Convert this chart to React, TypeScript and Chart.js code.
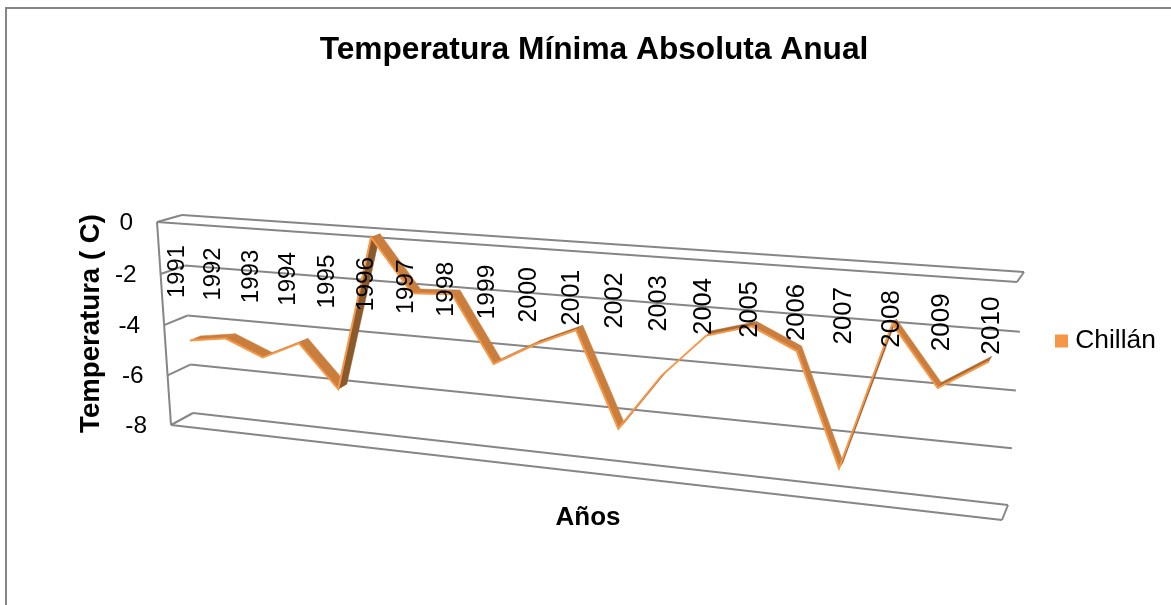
import React, { useEffect, useRef } from "react";
import { Chart, registerables } from "chart.js";

Chart.register(...registerables);

const years = ["1991","1992","1993","1994","1995","1996","1997","1998","1999","2000","2001","2002","2003","2004","2005","2006","2007","2008","2009","2010"];
const chillan = [-4.66,-4.44,-5.05,-4.36,-6.0,-0.12,-2.08,-2.0,-4.45,-3.6,-2.93,-6.4,-4.3,-2.73,-2.27,-3.0,-6.98,-1.8,-3.84,-2.8];

const FONT = "'Liberation Sans', Arial, sans-serif";
const WALL = "#868686";
const ORANGE = "#F79646";
const FALLING = "#C97E3D";
const RISING_MILD = "#A86B32";
const RISING = "#8A5A2C";

// Perspective of the 3D box: [top-left, top-right, bottom-right, bottom-left]
type P = [number, number];
const frontPlane: P[] = [[157,222],[1017,282],[1002,520],[171,425]];
const backPlane: P[] = [[182,215],[1024,272],[1008,505],[193,413]];

function project(u: number, v: number, depth: number): P {
  const q = frontPlane.map((p, i) => [p[0] + (backPlane[i][0]-p[0])*depth, p[1] + (backPlane[i][1]-p[1])*depth]);
  const [[x0,y0],[x1,y1],[x2,y2],[x3,y3]] = q;
  const dx1=x1-x2, dx2=x3-x2, dx3=x0-x1+x2-x3;
  const dy1=y1-y2, dy2=y3-y2, dy3=y0-y1+y2-y3;
  const den=dx1*dy2-dx2*dy1;
  const g=(dx3*dy2-dx2*dy3)/den, h=(dx1*dy3-dx3*dy1)/den;
  const a=x1-x0+g*x1, b=x3-x0+h*x3, d=y1-y0+g*y1, e=y3-y0+h*y3;
  const w=g*u+h*v+1;
  return [(a*u+b*v+x0)/w, (d*u+e*v+y0)/w];
}

const RIBBON_FRONT = 0.3;
const RIBBON_BACK = 0.75;

function normU(chart: any, i: number) {
  const s = chart.scales.x;
  return (s.getPixelForValue(i) - s.left) / (s.right - s.left);
}
function normV(chart: any, value: number) {
  const s = chart.scales.y;
  return (s.getPixelForValue(value) - s.top) / (s.bottom - s.top);
}

const box3d = {
  id: "box3d",
  afterDatasetsUpdate(chart: any) {
    const meta = chart.getDatasetMeta(0);
    const data = chart.data.datasets[0].data as number[];
    meta.data.forEach((pt: any, i: number) => {
      const [x, y] = project(normU(chart, i), normV(chart, data[i]), RIBBON_FRONT);
      pt.x = x; pt.y = y;
    });
  },
  beforeDraw(chart: any) {
    const { ctx } = chart;
    ctx.save();
    ctx.strokeStyle = WALL;
    ctx.lineWidth = 2;
    ctx.strokeRect(6, 8, 1300, 800);
    ctx.restore();

    // axis labels follow the slanted edges of the box
    const xs = chart.scales.x;
    xs.getLabelItems().forEach((it: any, i: number) => {
      const u = normU(chart, i);
      const [x, y] = project(u, 0, 0);
      it.options.translation = [x + 2 - 2 * u, y + 22 - 6 * u];
      it.options.textAlign = "right";
      it.options.textBaseline = "middle";
      it.textOffset = 0;
    });
    const ys = chart.scales.y;
    ys.getLabelItems().forEach((it: any, i: number) => {
      const v = normV(chart, ys.ticks[i].value);
      const [x, y] = project(0, v, 0);
      it.options.translation = [x - 24, y + 1];
    });

    const lg = chart.legend;
    const shift = 341 - (lg.top + lg.bottom) / 2;
    lg.top += shift; lg.bottom += shift;
    const shiftX = 1061 - lg.options.labels.padding - lg.left;
    lg.left += shiftX; lg.right += shiftX;
  },
  beforeDatasetsDraw(chart: any) {
    const { ctx } = chart;
    const ys = chart.scales.y;
    const line = (a: P, b: P) => { ctx.beginPath(); ctx.moveTo(a[0], a[1]); ctx.lineTo(b[0], b[1]); ctx.stroke(); };
    ctx.save();
    ctx.strokeStyle = WALL;
    ctx.lineWidth = 2;
    ys.ticks.forEach((t: any) => {
      const v = normV(chart, t.value);
      line(project(0, v, 1), project(1, v, 1));
      line(project(0, v, 0), project(0, v, 1));
    });
    line(project(0, 0, 0), project(0, 1, 0));
    line(project(0, 0, 0), project(1, 0, 0));
    line(project(1, 0, 0), project(1, 0, 1));
    line(project(0, 1, 0), project(1, 1, 0));
    line(project(1, 1, 0), project(1, 1, 1));
    ctx.restore();

    // side faces of the 3D ribbon, between its front and back edges
    const data = chart.data.datasets[0].data as number[];
    ctx.save();
    for (let i = 0; i < data.length - 1; i++) {
      const u0 = normU(chart, i), u1 = normU(chart, i + 1);
      const v0 = normV(chart, data[i]), v1 = normV(chart, data[i + 1]);
      const a = project(u0, v0, RIBBON_FRONT), b = project(u1, v1, RIBBON_FRONT);
      const c = project(u1, v1, RIBBON_BACK), d = project(u0, v0, RIBBON_BACK);
      const rise = data[i + 1] - data[i];
      const col = rise > 1.5 ? RISING : rise > 0.3 ? RISING_MILD : FALLING;
      ctx.fillStyle = col; ctx.strokeStyle = col; ctx.lineWidth = 0.5;
      ctx.beginPath();
      ctx.moveTo(a[0], a[1]); ctx.lineTo(b[0], b[1]); ctx.lineTo(c[0], c[1]); ctx.lineTo(d[0], d[1]);
      ctx.closePath(); ctx.fill(); ctx.stroke();
    }
    ctx.restore();
  },
};

export default function App() {
  const ref = useRef<HTMLCanvasElement>(null);
  useEffect(() => {
    const chart = new Chart(ref.current as HTMLCanvasElement, {
      type: "line",
      data: {
        labels: years,
        datasets: [{
          label: "Chillán",
          data: chillan,
          borderColor: ORANGE,
          backgroundColor: ORANGE,
          borderWidth: 2,
          pointRadius: 0,
          tension: 0,
          clip: false,
        }],
      },
      options: {
        responsive: false,
        animation: false,
        layout: { padding: { left: 22, right: 5, top: 0, bottom: 72 } },
        plugins: {
          tooltip: { enabled: false },
          title: {
            display: true,
            text: "Temperatura Mínima Absoluta Anual",
            color: "#000",
            font: { family: FONT, size: 31.7, weight: "bold", lineHeight: 1.2 },
            padding: { top: 31, bottom: 155 },
          },
          legend: {
            position: "right",
            labels: {
              color: "#000",
              font: { family: FONT, size: 26.4 },
              usePointStyle: true,
              pointStyle: "rect",
              boxWidth: 1,
              boxHeight: 11,
              padding: 36,
            },
          },
        },
        scales: {
          x: {
            type: "category",
            offset: true,
            grid: { display: false },
            border: { display: false },
            afterFit: (s: any) => { s.height = 110; },
            ticks: {
              color: "#000",
              // the labels grow slightly towards the viewer, as the perspective does
              font: (c: any) => ({ family: FONT, size: 23.8 + (2.4 * c.index) / (years.length - 1) }),
              minRotation: 90, maxRotation: 90, autoSkip: false, z: 1, mirror: true,
            },
            title: { display: true, text: "Años", color: "#000", font: { family: FONT, size: 26, weight: "bold", lineHeight: 1.2 }, padding: 0 },
          },
          y: {
            min: -8,
            max: 0,
            grid: { display: false },
            border: { display: false },
            afterFit: (s: any) => { s.width = 129; },
            ticks: { stepSize: 2, color: "#000", font: { family: FONT, size: 24.4 }, z: 1 },
            title: { display: true, text: "Temperatura ( C)", color: "#000", font: { family: FONT, size: 27.6, weight: "bold", lineHeight: 1.2 }, padding: { top: 53, bottom: 0 } },
          },
        },
      },
      plugins: [box3d],
    } as any);
    return () => chart.destroy();
  }, []);
  return (
    <div style={{ position: "fixed", left: 0, top: 0, width: 1171, height: 605, background: "#fff", overflow: "hidden" }}>
      <canvas ref={ref} width={1171} height={605} style={{ display: "block" }} />
    </div>
  );
}
